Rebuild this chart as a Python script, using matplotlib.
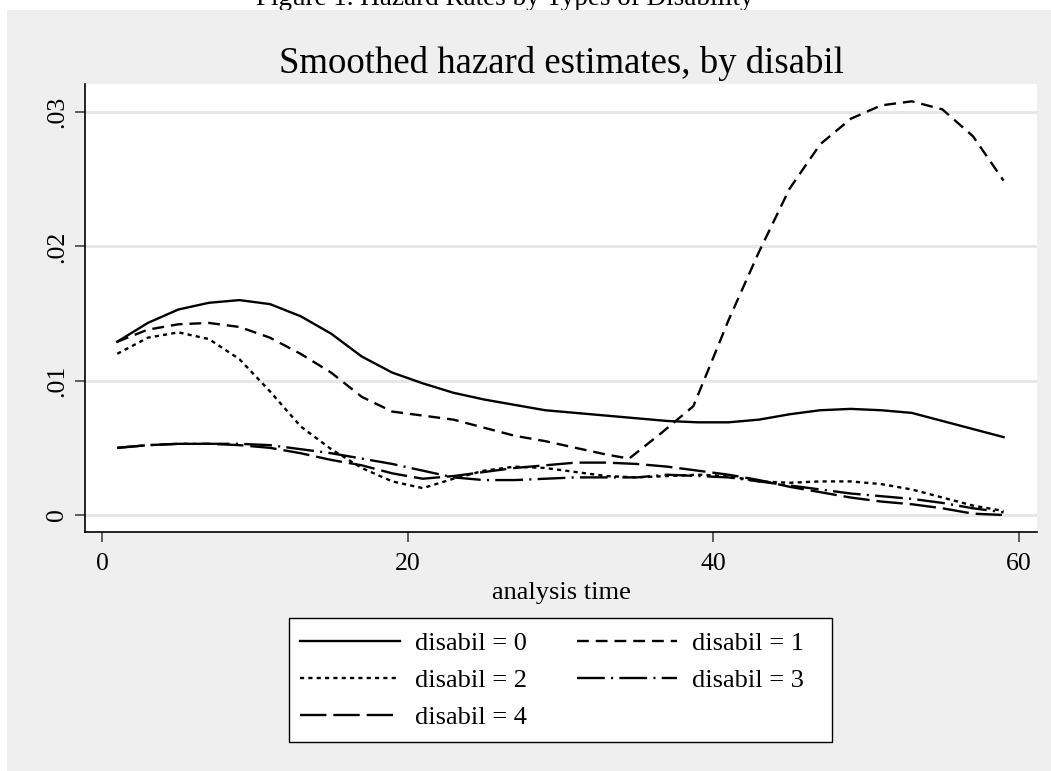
import matplotlib
matplotlib.use('Agg')
import matplotlib.pyplot as plt
from matplotlib.patches import Rectangle

plt.rcParams['font.family'] = ['Liberation Serif', 'DejaVu Serif']
plt.rcParams['lines.scale_dashes'] = False

# analysis time (months) at which the smoothed hazards were read
t = [1, 3, 5, 7, 9, 11, 13, 15, 17, 19, 21, 23, 25, 27, 29,
     31, 33, 35, 37, 39, 41, 43, 45, 47, 49, 51, 53, 55, 57, 59]

h0 = [0.0129, 0.0143, 0.0153, 0.0158, 0.0160, 0.0157, 0.0148, 0.0135, 0.0118, 0.0106,
      0.0098, 0.0091, 0.0086, 0.0082, 0.0078, 0.0076, 0.0074, 0.0072, 0.0070, 0.0069,
      0.0069, 0.0071, 0.0075, 0.0078, 0.0079, 0.0078, 0.0076, 0.0070, 0.0064, 0.0058]

# disabil = 1 has a kink near t=35-39, so it gets its own time points
t1 = [1, 3, 5, 7, 9, 11, 13, 15, 17, 19, 21, 23, 25, 27, 29, 31, 33, 34.5,
      36.6, 38.7, 40, 41, 43, 45, 47, 49, 51, 53, 55, 57, 59]
h1 = [0.0129, 0.0138, 0.0142, 0.0143, 0.0140, 0.0132, 0.0120, 0.0106, 0.0088, 0.0077,
      0.0074, 0.0071, 0.0065, 0.0059, 0.0055, 0.0050, 0.0045, 0.0042,
      0.0061, 0.0081, 0.0117, 0.0145, 0.0196, 0.0243, 0.0276, 0.0295, 0.0305, 0.0308,
      0.0302, 0.0282, 0.0249]

h2 = [0.0120, 0.0132, 0.0136, 0.0131, 0.0116, 0.0092, 0.0066, 0.0049, 0.0035, 0.0025,
      0.0020, 0.0027, 0.0033, 0.0036, 0.0035, 0.0032, 0.0029, 0.0028, 0.0029, 0.0030,
      0.0029, 0.0025, 0.0024, 0.0025, 0.0025, 0.0023, 0.0019, 0.0013, 0.0007, 0.0003]

h3 = [0.0050, 0.0052, 0.0053, 0.0053, 0.0053, 0.0052, 0.0049, 0.0046, 0.0042, 0.0038,
      0.0033, 0.0028, 0.0026, 0.0026, 0.0027, 0.0028, 0.0028, 0.0028, 0.0030, 0.0029,
      0.0028, 0.0025, 0.0022, 0.0019, 0.0016, 0.0014, 0.0012, 0.0009, 0.0005, 0.0002]

h4 = [0.0050, 0.0052, 0.0053, 0.0053, 0.0052, 0.0050, 0.0046, 0.0041, 0.0037, 0.0031,
      0.0027, 0.0029, 0.0032, 0.0035, 0.0037, 0.0039, 0.0039, 0.0038, 0.0036, 0.0033,
      0.0030, 0.0026, 0.0021, 0.0017, 0.0013, 0.0010, 0.0008, 0.0005, 0.0001, 0.0000]

labels = ['disabil = 0', 'disabil = 1', 'disabil = 2', 'disabil = 3', 'disabil = 4']
xticks = [0, 20, 40, 60]
yticks = [0, 0.01, 0.02, 0.03]
ytick_labels = ['0', '.01', '.02', '.03']

W, H = 1051, 771
fig = plt.figure(figsize=(W / 100, H / 100), dpi=100)
fig.patch.set_facecolor('white')

# figure title, mostly cut off by the top edge like in the original
fig.text(505 / W, 1 - 5 / H, 'Figure 1. Hazard Rates by Types of Disability',
         ha='center', va='baseline', fontsize=19.5, zorder=-2)
# stata style grey graph region
fig.add_artist(Rectangle((7 / W, 0), 1, 1 - 10 / H, transform=fig.transFigure,
                         facecolor='#efefef', edgecolor='none', zorder=-1))

ax = fig.add_axes([85 / W, 1 - 532 / H, (1037 - 85) / W, (532 - 84) / H])
ax.set_facecolor('white')

lw = 1.7
l0, = ax.plot(t, h0, color='black', lw=lw, linestyle='-', label=labels[0])
l1, = ax.plot(t1, h1, color='black', lw=lw, linestyle=(0, (8.5, 5)), label=labels[1])
l2, = ax.plot(t, h2, color='black', lw=lw, linestyle=(0, (3, 3)), label=labels[2])
l3, = ax.plot(t, h3, color='black', lw=lw, linestyle=(0, (20, 4.5, 1.5, 4.5)), label=labels[3])
l4, = ax.plot(t, h4, color='black', lw=lw, linestyle=(0, (19, 5)), label=labels[4])

ax.set_xlim(-1.11, 61.19)
ax.set_ylim(-0.001266, 0.03209)
ax.set_xticks(xticks)
ax.set_xticklabels([str(x) for x in xticks])
ax.set_yticks(yticks)
ax.set_yticklabels(ytick_labels, rotation=90, va='center')
ax.grid(axis='y', color='#e6e6e6', lw=2)
ax.set_axisbelow(True)
for s in ['top', 'right']:
    ax.spines[s].set_visible(False)
for s in ['left', 'bottom']:
    ax.spines[s].set_color('black')
    ax.spines[s].set_linewidth(1.2)
ax.tick_params(axis='both', direction='out', length=7, width=1.2, color='#444444',
               labelsize=18.5, pad=5)
ax.tick_params(axis='x', pad=8)

ax.set_xlabel('analysis time', fontsize=19, labelpad=5)
ax.set_title('Smoothed hazard estimates, by disabil', fontsize=26.5, pad=8)

# row-major order like stata: (0,1), (2,3), (4)
handles = [l0, l2, l4, l1, l3]
leg = fig.legend(handles, [h.get_label() for h in handles], loc='upper left',
                 bbox_to_anchor=(300 / W, 1 - 632 / H), bbox_transform=fig.transFigure,
                 ncol=2, fontsize=19, frameon=False, handlelength=3.8,
                 handletextpad=0.55, columnspacing=1.9, labelspacing=0.5, borderpad=0,
                 borderaxespad=0)
fig.add_artist(Rectangle((289 / W, 1 - 742 / H), (832 - 289) / W, 124 / H,
                         transform=fig.transFigure, facecolor='white',
                         edgecolor='black', lw=1.0, zorder=-0.5))

fig.savefig('out.png', dpi=100, facecolor=fig.get_facecolor())
